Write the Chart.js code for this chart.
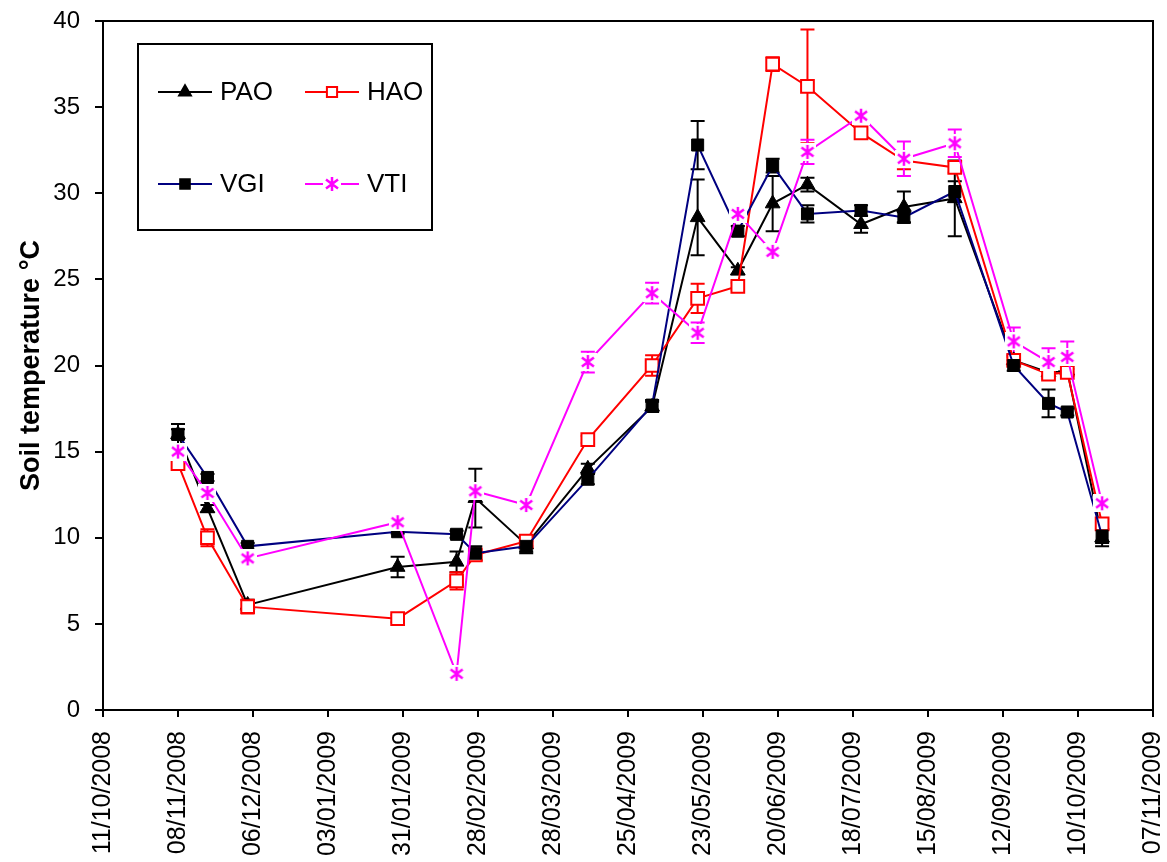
<!DOCTYPE html>
<html>
<head>
<meta charset="utf-8">
<script src="https://cdn.jsdelivr.net/npm/chart.js@4"></script>
<style>
  body { margin: 0; background: #fff; }
  #wrap { width: 1167px; height: 862px; }
</style>
</head>
<body>
<div id="wrap"><canvas id="soilChart" width="1167" height="862"></canvas></div>
<script>
// sampling dates (dd/mm/yyyy)
const sampleDates = [
  "08/11/2008", "19/11/2008", "04/12/2008", "29/01/2009", "20/02/2009",
  "27/02/2009", "18/03/2009", "10/04/2009", "04/05/2009", "21/05/2009",
  "05/06/2009", "18/06/2009", "01/07/2009", "21/07/2009", "06/08/2009",
  "25/08/2009", "16/09/2009", "29/09/2009", "06/10/2009", "19/10/2009"
];

const paoTemp = [16.0, 11.7, 6.1, 8.3, 8.6, 12.3, 9.6, 14.0, 17.6, 28.6, 25.5, 29.4, 30.5, 28.2, 29.2, 29.7, 20.3, 19.6, 19.7, 10.0];
const paoErr  = [0.3, 0.2, 0.3, 0.6, 0.6, 1.7, 0.5, 0.3, 0.3, 2.2, 0.2, 1.6, 0.4, 0.5, 0.9, 2.2, 0.3, 0.3, 0.3, 0.5];

const haoTemp = [14.3, 10.0, 6.0, 5.3, 7.5, 9.0, 9.8, 15.7, 20.0, 23.9, 24.6, 37.5, 36.2, 33.5, 31.9, 31.5, 20.3, 19.5, 19.6, 10.8];
const haoErr  = [0.2, 0.5, 0.4, 0.2, 0.5, 0.3, 0.3, 0.2, 0.6, 0.85, 0.2, 0.4, 3.3, 0.2, 0.5, 0.3, 0.2, 0.3, 0.2, 0.3];

const vgiTemp = [16.0, 13.5, 9.5, 10.35, 10.2, 9.1, 9.5, 13.4, 17.7, 32.8, 27.8, 31.6, 28.8, 29.0, 28.6, 30.1, 20.0, 17.8, 17.3, 10.1];
const vgiErr  = [0.6, 0.2, 0.2, 0.1, 0.2, 0.4, 0.3, 0.3, 0.3, 1.4, 0.3, 0.4, 0.5, 0.3, 0.3, 0.6, 0.3, 0.8, 0.2, 0.4];

const vtiTemp = [15.0, 12.6, 8.8, 10.9, 2.1, 12.7, 11.9, 20.2, 24.2, 21.9, 28.8, 26.6, 32.4, 34.5, 32.0, 32.9, 21.4, 20.2, 20.5, 12.0];
const vtiErr  = [0.2, 0.2, 0.2, 0.1, 0.1, 0.2, 0.1, 0.6, 0.6, 0.6, 0.2, 0.2, 0.7, 0.2, 1.0, 0.8, 0.8, 0.8, 0.9, 0.2];

// axis
const axisStart = "11/10/2008";
const tickStepDays = 28;
const tickCount = 15;
const yMin = 0, yMax = 40, yStep = 5;

const DAY = 86400000;
function toUTC(s) {
  const [d, m, y] = s.split("/").map(Number);
  return Date.UTC(y, m - 1, d);
}
const t0 = toUTC(axisStart);
const dayOf = s => Math.round((toUTC(s) - t0) / DAY);
function fmtDay(n) {
  const dt = new Date(t0 + n * DAY);
  const p = v => String(v).padStart(2, "0");
  return p(dt.getUTCDate()) + "/" + p(dt.getUTCMonth() + 1) + "/" + dt.getUTCFullYear();
}
const pts = vals => vals.map((v, i) => ({ x: dayOf(sampleDates[i]), y: v }));

// VTI marker: asterisk on white
const starImg = document.createElement("canvas");
starImg.width = 18; starImg.height = 18;
(() => {
  const c = starImg.getContext("2d");
  c.fillStyle = "#fff";
  c.fillRect(0, 0, 18, 18);
  c.strokeStyle = "#ff00ff";
  c.lineWidth = 2.5;
  c.beginPath();
  c.moveTo(9, 2); c.lineTo(9, 16);
  c.moveTo(3, 4.5); c.lineTo(15, 13.5);
  c.moveTo(15, 4.5); c.lineTo(3, 13.5);
  c.stroke();
})();

const datasets = [
  { label: "PAO", data: pts(paoTemp), err: paoErr, errColor: "#000", order: 4,
    borderColor: "#000", backgroundColor: "#000", pointStyle: "triangle",
    pointRadius: 8.5, pointBackgroundColor: "#000", pointBorderColor: "#000", pointBorderWidth: 1 },
  { label: "HAO", data: pts(haoTemp), err: haoErr, errColor: "#ff0000", order: 3,
    borderColor: "#ff0000", backgroundColor: "#fff", pointStyle: "rect",
    pointRadius: 9, pointBackgroundColor: "#fff", pointBorderColor: "#ff0000", pointBorderWidth: 2 },
  { label: "VGI", data: pts(vgiTemp), err: vgiErr, errColor: "#000", order: 2,
    borderColor: "#000080", backgroundColor: "#000", pointStyle: "rect",
    pointRadius: 8.5, pointBackgroundColor: "#000", pointBorderColor: "#000", pointBorderWidth: 1 },
  { label: "VTI", data: pts(vtiTemp), err: vtiErr, errColor: "#ff00ff", order: 1,
    borderColor: "#ff00ff", backgroundColor: "#fff", pointStyle: starImg,
    pointRadius: 9, pointBorderWidth: 0 }
];
datasets.forEach(d => { d.borderWidth = 2; d.tension = 0; d.fill = false; });

const errorBars = {
  id: "errorBars",
  beforeDatasetsDraw(chart) {
    const ctx = chart.ctx, ys = chart.scales.y;
    chart.data.datasets.forEach((ds, i) => {
      const meta = chart.getDatasetMeta(i);
      ctx.save();
      ctx.strokeStyle = ds.errColor;
      ctx.lineWidth = 2;
      meta.data.forEach((el, j) => {
        const v = ds.data[j].y, e = ds.err[j];
        const top = ys.getPixelForValue(v + e), bot = ys.getPixelForValue(v - e);
        ctx.beginPath();
        ctx.moveTo(el.x, top); ctx.lineTo(el.x, bot);
        ctx.moveTo(el.x - 7, top); ctx.lineTo(el.x + 7, top);
        ctx.moveTo(el.x - 7, bot); ctx.lineTo(el.x + 7, bot);
        ctx.stroke();
      });
      ctx.restore();
    });
  }
};

const frameAndLegend = {
  id: "frameAndLegend",
  afterDraw(chart) {
    const ctx = chart.ctx, a = chart.chartArea;
    ctx.save();
    ctx.strokeStyle = "#000";
    ctx.lineWidth = 2;
    ctx.strokeRect(a.left, a.top, a.right - a.left, a.bottom - a.top);

    // legend box
    ctx.fillStyle = "#fff";
    ctx.fillRect(138, 44, 294, 186);
    ctx.strokeRect(138, 44, 294, 186);
    const slots = [[158, 92], [305, 92], [158, 184], [305, 184]];
    ctx.font = "26px 'Liberation Sans', Arial, sans-serif";
    ctx.textBaseline = "middle";
    chart.data.datasets.forEach((ds, i) => {
      const [x0, y] = slots[i];
      ctx.strokeStyle = ds.borderColor;
      ctx.lineWidth = 2;
      ctx.beginPath(); ctx.moveTo(x0, y); ctx.lineTo(x0 + 54, y); ctx.stroke();
      ctx.fillStyle = ds.pointBackgroundColor || "#fff";
      ctx.strokeStyle = ds.pointBorderColor || ds.borderColor;
      Chart.helpers.drawPoint(ctx, {
        pointStyle: ds.pointStyle, radius: ds.pointRadius * 0.8,
        rotation: 0, borderWidth: ds.pointBorderWidth
      }, x0 + 27, y);
      ctx.fillStyle = "#000";
      ctx.fillText(ds.label, x0 + 62, y + 1);
    });
    ctx.restore();
  }
};

const bgWhite = {
  id: "bgWhite",
  beforeDraw(chart) {
    const ctx = chart.ctx;
    ctx.save();
    ctx.fillStyle = "#fff";
    ctx.fillRect(0, 0, chart.width, chart.height);
    ctx.restore();
  }
};

new Chart(document.getElementById("soilChart"), {
  type: "line",
  data: { datasets },
  options: {
    responsive: false,
    animation: false,
    events: [],
    layout: { padding: { top: 21, right: 14, left: 0, bottom: 0 } },
    plugins: { legend: { display: false }, tooltip: { enabled: false } },
    scales: {
      x: {
        type: "linear",
        min: 0,
        max: tickStepDays * (tickCount - 1),
        afterFit: s => { s.height = 152; s.paddingLeft = 0; s.paddingRight = 0; },
        ticks: {
          stepSize: tickStepDays,
          autoSkip: false,
          minRotation: 90,
          maxRotation: 90,
          padding: 14,
          color: "#000",
          font: { family: "'Liberation Sans', Arial, sans-serif", size: 25 },
          callback: v => fmtDay(v)
        },
        grid: { drawOnChartArea: false, drawTicks: true, tickLength: 7, color: "#000", lineWidth: 2 },
        border: { color: "#000", width: 2 }
      },
      y: {
        min: yMin,
        max: yMax,
        afterFit: s => { s.width = 103; s.paddingTop = 0; s.paddingBottom = 0; },
        ticks: {
          stepSize: yStep,
          padding: 15,
          color: "#000",
          font: { family: "'Liberation Sans', Arial, sans-serif", size: 24 }
        },
        title: {
          display: true,
          text: "Soil temperature °C",
          color: "#000",
          padding: { top: 15 },
          font: { family: "'Liberation Sans', Arial, sans-serif", size: 27, weight: "bold" }
        },
        grid: { drawOnChartArea: false, drawTicks: true, tickLength: 8, color: "#000", lineWidth: 2 },
        border: { color: "#000", width: 2 }
      }
    }
  },
  plugins: [bgWhite, errorBars, frameAndLegend]
});
</script>
</body>
</html>
